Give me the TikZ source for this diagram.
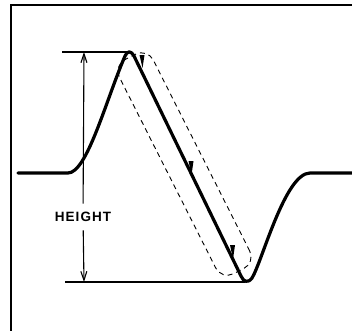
\documentclass[tikz,border=0pt]{standalone}
\usepackage{fontspec}
\setmainfont{Liberation Sans}
\usetikzlibrary{arrows.meta}
\begin{document}
\begin{tikzpicture}[x=1pt,y=-1pt,
  frame/.style={line width=1.8pt},
  wave/.style={line width=3.2pt,line join=round,line cap=round},
  thin/.style={line width=1.1pt},
  dimarrow/.style={thin,-{Straight Barb[length=9pt,width=6pt,line width=1.1pt]}},
  caps/.style={draw,line width=0.9pt,dash pattern=on 5pt off 4pt,rounded corners=13pt,
    minimum width=240pt,minimum height=38pt,rotate=-63.2,inner sep=0pt},
  wedge/.style={fill=black}]
\useasboundingbox (0,0) rectangle (352,330);
% frame
\draw[frame] (11,331) -- (11,5) -- (353,5);
% dashed capsule
\node[caps] (capsule) at (184.5,164) {};
% reference lines
\coordinate (ptop) at (128,52);
\coordinate (ltop) at (62,52);
\coordinate (pbot) at (245,282);
\coordinate (lbot) at (65,282);
\draw[thin] (ltop) -- (ptop);
\draw[thin] (lbot) -- (pbot);
% waveform
\draw[wave] (18,173) -- (68,173) .. controls (87,173) and (106,100) .. (125,56)
  .. controls (127.5,50.5) and (131,50.5) .. (134,56) -- (241,276)
  .. controls (243.5,282) and (248,283.5) .. (252,278)
  .. controls (262,262) and (285,173) .. (310,173) -- (352,173);
% direction wedges
\fill[wedge] (139.5,55) -- (144.5,55) -- (142.5,68) -- cycle;
\fill[wedge] (188.5,161) -- (193.5,161) -- (191.5,175) -- cycle;
\fill[wedge] (230,245) -- (235,245) -- (233,259) -- cycle;
% dimension
\coordinate (dtop) at (84,52);
\coordinate (dbot) at (84,282);
\node[font=\bfseries\fontsize{13.5}{14}\selectfont\addfontfeature{LetterSpace=8},inner xsep=0pt,inner ysep=8.5pt] (height) at (83,217) {HEIGHT};
\draw[dimarrow] (height) -- (dtop);
\draw[dimarrow] (height) -- (dbot);
\end{tikzpicture}
\end{document}
